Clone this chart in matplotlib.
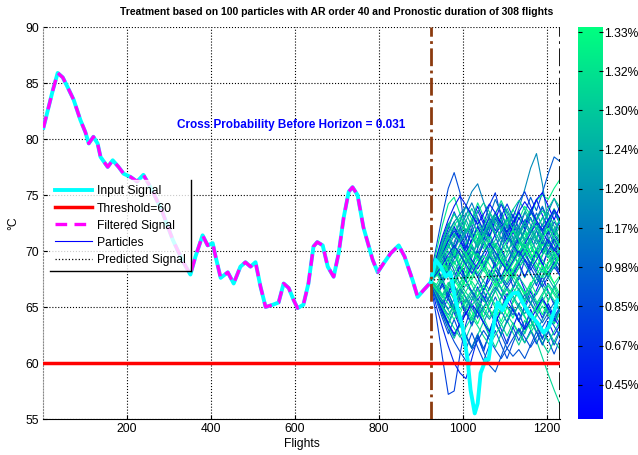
import matplotlib
matplotlib.use('Agg')
import matplotlib.pyplot as plt
import numpy as np
from matplotlib.lines import Line2D

plt.rcParams['font.family'] = ['Liberation Sans', 'DejaVu Sans']
plt.rcParams['font.size'] = 8.7

# measured signal (flight, degC)
sig_flights = [2, 12, 24, 36, 48, 60, 74, 90, 102, 110, 121, 131, 138, 155, 167, 181, 193, 210,
               225, 240, 260, 285, 310, 335, 352, 364, 381, 393, 405, 412, 424, 441, 455, 471,
               483, 495, 507, 519, 531, 548, 562, 574, 586, 598, 607, 621, 633, 645, 654, 667,
               679, 693, 705, 717, 729, 738, 750, 764, 786, 798, 812, 829, 848, 862, 881, 893,
               907, 924, 936, 948, 960, 971, 983, 1000, 1012, 1019, 1029, 1036, 1043, 1055,
               1062, 1071, 1083, 1095, 1107, 1119, 1131, 1143, 1157, 1178, 1193, 1205, 1217, 1226]
sig_values = [81.0, 82.5, 84.3, 85.9, 85.5, 84.6, 83.5, 81.7, 80.6, 79.6, 80.2, 79.6, 78.4, 77.5,
              78.1, 77.5, 76.9, 76.6, 76.2, 76.8, 75.5, 73.5, 71.0, 69.0, 67.9, 69.5, 71.4, 70.5,
              70.7, 69.5, 67.6, 68.1, 67.1, 68.6, 69.0, 68.6, 69.0, 66.8, 65.0, 65.2, 65.4, 67.1,
              66.7, 65.6, 64.9, 65.2, 67.1, 70.4, 70.8, 70.5, 68.6, 67.7, 69.8, 73.0, 75.3, 75.7,
              75.0, 72.1, 69.2, 68.1, 68.9, 69.8, 70.5, 69.5, 67.4, 65.9, 66.5, 67.2, 69.2, 68.6,
              67.7, 68.1, 65.6, 63.2, 60.3, 57.6, 55.5, 56.4, 59.1, 60.3, 60.3, 62.7, 65.4, 64.7,
              65.6, 66.2, 66.3, 65.4, 64.5, 63.6, 62.7, 63.2, 64.5, 65.6]

horizon = 924
duration = 308
threshold = 60
cross_prob = 0.031

# particle trajectories, one value every 14 flights from the horizon
part_flights = list(range(924, 1233, 14))
particles = [
    [67.2, 64.0, 60.5, 57.2, 57.5, 60.8, 63.5, 65.2, 64.0, 66.5, 68.0, 67.2, 69.0, 68.4, 66.8, 67.5, 69.2, 68.0, 66.9, 68.5, 70.1, 69.0, 68.2],
    [67.8, 70.5, 73.2, 75.6, 77.0, 75.2, 71.0, 68.8, 70.2, 72.5, 71.0, 69.3, 70.8, 72.4, 71.2, 69.5, 70.9, 72.0, 71.1, 69.8, 71.5, 72.6, 71.8],
    [67.5, 68.9, 70.2, 69.0, 70.8, 72.1, 70.5, 69.4, 71.0, 72.3, 71.4, 70.2, 71.8, 73.0, 72.2, 73.8, 75.5, 77.4, 78.7, 76.0, 72.5, 70.8, 71.5],
    [67.0, 66.2, 68.0, 69.5, 68.2, 67.0, 68.8, 70.4, 69.2, 71.0, 72.6, 71.3, 70.0, 71.7, 73.1, 72.0, 73.4, 74.8, 73.6, 75.2, 76.9, 78.4, 78.0],
    [67.4, 68.6, 67.5, 69.0, 70.3, 69.1, 70.6, 71.8, 70.7, 72.0, 71.2, 72.5, 73.4, 72.3, 73.7, 72.8, 74.0, 73.2, 74.5, 75.0, 74.6, 75.6, 76.4],
    [67.3, 66.1, 67.2, 65.9, 64.8, 66.0, 64.9, 63.8, 65.1, 64.0, 62.9, 64.2, 63.5, 62.4, 63.6, 62.7, 63.8, 63.0, 62.0, 60.5, 59.0, 57.6, 56.3],
    [66.9, 68.2, 69.8, 68.5, 70.1, 71.5, 70.2, 72.0, 73.6, 72.4, 74.1, 75.2, 73.0, 71.4, 72.6, 71.1, 69.8, 71.2, 70.0, 71.6, 72.8, 71.4, 70.6],
    [67.6, 70.0, 72.3, 74.2, 74.8, 73.3, 71.7, 72.9, 71.5, 70.2, 71.6, 70.4, 69.0, 70.5, 69.3, 70.8, 72.0, 70.7, 69.5, 70.8, 69.7, 70.9, 69.8],
    [67.1, 65.0, 63.2, 61.5, 60.0, 59.1, 58.6, 60.4, 62.3, 61.0, 62.8, 64.3, 63.0, 61.7, 63.2, 64.5, 63.1, 64.8, 63.5, 62.2, 63.7, 62.5, 63.4],
    [67.4, 69.0, 70.6, 72.0, 73.5, 72.2, 71.0, 72.6, 74.0, 72.7, 71.3, 72.8, 74.2, 72.9, 71.5, 73.0, 72.0, 73.4, 74.6, 73.2, 72.1, 73.5, 72.4],
    [67.3, 68.0, 67.0, 68.2, 69.1, 68.0, 69.3, 68.1, 67.2, 68.5, 69.6, 68.4, 67.5, 68.8, 69.9, 68.7, 67.6, 68.9, 70.0, 68.8, 67.8, 69.0, 68.2],
    [67.0, 66.0, 64.7, 65.8, 64.5, 63.2, 64.6, 63.3, 64.8, 66.0, 64.7, 63.5, 64.9, 66.2, 65.0, 63.8, 65.1, 66.4, 65.2, 64.0, 65.3, 64.1, 65.0],
    [67.5, 68.8, 70.1, 71.2, 70.0, 71.5, 72.8, 71.6, 70.3, 71.7, 70.5, 69.2, 70.6, 71.9, 70.8, 72.1, 71.0, 69.8, 71.2, 72.4, 71.2, 70.0, 71.3],
    [67.4, 66.5, 65.4, 66.7, 65.6, 64.4, 65.7, 64.6, 63.5, 64.8, 66.0, 64.9, 63.7, 65.0, 64.0, 65.3, 64.2, 63.0, 64.4, 65.6, 64.5, 63.5, 64.7],
    [67.2, 68.3, 69.5, 68.4, 67.1, 68.6, 69.9, 68.7, 70.0, 68.8, 67.6, 69.0, 70.2, 69.0, 67.9, 69.3, 70.5, 69.4, 68.2, 69.6, 70.8, 69.6, 68.5],
    [67.6, 69.4, 71.0, 72.5, 71.3, 72.8, 74.0, 72.8, 74.3, 73.1, 71.9, 73.3, 74.5, 73.3, 72.0, 73.4, 72.2, 73.6, 72.3, 71.0, 72.5, 73.8, 72.6],
    [67.0, 65.5, 64.0, 62.6, 63.9, 62.5, 61.2, 62.7, 61.4, 60.2, 61.6, 62.9, 61.6, 60.4, 61.8, 63.0, 61.8, 62.9, 61.7, 63.0, 62.0, 60.8, 62.1],
    [67.3, 66.4, 67.5, 66.2, 65.0, 66.3, 67.5, 66.3, 65.1, 66.4, 65.2, 66.6, 67.8, 66.6, 65.4, 66.7, 65.5, 66.9, 68.0, 66.8, 65.6, 66.9, 65.8],
    [67.5, 69.0, 70.3, 69.1, 70.6, 71.9, 73.2, 74.3, 73.0, 71.8, 73.1, 74.6, 73.4, 72.0, 73.3, 72.0, 70.8, 72.1, 73.4, 72.2, 73.5, 74.7, 73.5],
    [67.4, 67.8, 68.9, 70.0, 68.8, 69.9, 68.6, 67.4, 68.7, 69.9, 71.0, 69.8, 68.6, 69.8, 71.0, 69.8, 70.9, 69.7, 68.5, 69.7, 70.9, 69.7, 70.8],
    [67.1, 66.0, 67.1, 65.9, 66.9, 65.6, 64.3, 65.6, 66.8, 65.5, 66.7, 67.9, 66.6, 65.4, 66.6, 67.8, 66.5, 65.3, 66.5, 67.7, 66.4, 65.2, 66.4],
    [67.2, 65.8, 64.5, 63.4, 64.7, 63.5, 62.2, 63.5, 64.8, 63.6, 62.4, 63.6, 62.5, 63.8, 65.0, 63.8, 62.6, 63.9, 62.8, 61.7, 62.9, 61.9, 63.0],
    [67.6, 68.7, 70.0, 71.4, 70.2, 71.5, 70.3, 71.6, 72.9, 71.8, 73.0, 71.8, 73.1, 74.2, 73.0, 74.4, 75.3, 74.0, 72.7, 73.9, 72.6, 71.4, 72.7],
    [67.5, 68.5, 69.7, 70.9, 72.0, 70.8, 69.6, 70.9, 72.1, 70.9, 72.2, 73.3, 72.1, 70.9, 72.0, 70.8, 71.9, 70.7, 71.8, 73.0, 71.8, 72.9, 71.7],
    [67.0, 66.2, 65.0, 66.3, 65.0, 63.8, 62.5, 61.4, 62.6, 61.0, 59.8, 59.2, 60.6, 62.0, 63.2, 62.0, 63.3, 64.5, 63.3, 62.1, 63.4, 64.6, 63.4],
    [67.4, 68.4, 67.3, 68.5, 69.7, 68.5, 67.3, 68.6, 69.8, 70.9, 69.7, 68.5, 69.7, 68.5, 69.8, 71.0, 69.8, 68.6, 69.8, 71.0, 69.8, 68.7, 69.9],
    [67.3, 68.6, 67.4, 66.3, 67.6, 68.8, 67.6, 68.9, 67.7, 66.5, 67.8, 69.0, 70.1, 68.9, 67.7, 68.9, 67.7, 68.9, 70.1, 68.9, 67.7, 69.0, 67.8],
    [67.2, 66.3, 65.2, 64.0, 65.2, 66.4, 65.3, 64.1, 65.3, 64.1, 65.3, 66.5, 65.3, 64.2, 65.4, 66.5, 65.4, 66.6, 65.5, 64.3, 65.5, 66.7, 65.5],
    [67.5, 69.3, 71.0, 72.4, 71.2, 72.6, 74.0, 75.3, 76.0, 74.4, 72.8, 71.5, 72.8, 71.5, 70.2, 71.5, 72.8, 71.6, 72.9, 74.0, 72.8, 71.6, 72.9],
    [67.1, 65.6, 64.4, 63.3, 62.2, 63.4, 62.3, 61.3, 62.5, 63.7, 62.5, 61.4, 62.6, 63.8, 62.7, 61.6, 62.8, 64.0, 62.8, 61.8, 60.9, 62.0, 61.2],
    [67.4, 68.3, 69.5, 70.6, 69.4, 70.6, 71.8, 70.6, 69.4, 70.6, 71.8, 73.0, 71.8, 70.6, 71.8, 70.6, 71.8, 73.0, 71.8, 70.6, 71.8, 70.6, 69.5],
    [67.0, 65.9, 64.8, 63.6, 64.8, 63.6, 64.9, 66.0, 64.8, 63.6, 64.8, 63.6, 62.5, 63.7, 64.9, 63.7, 64.9, 63.8, 62.7, 63.9, 65.0, 63.9, 64.9],
    [67.4, 68.2, 69.2, 68.1, 67.0, 68.2, 69.4, 70.5, 69.3, 68.2, 69.4, 70.6, 69.4, 68.3, 69.4, 70.6, 71.6, 70.5, 69.4, 70.6, 69.5, 68.4, 69.6],
    [67.3, 68.5, 69.8, 71.0, 72.2, 71.0, 69.8, 71.0, 72.2, 71.0, 72.3, 73.4, 72.2, 71.0, 72.3, 73.5, 72.3, 73.5, 74.6, 75.2, 74.0, 72.8, 74.0],
    [67.6, 69.0, 70.2, 71.5, 72.6, 71.5, 72.7, 73.8, 72.7, 71.5, 72.7, 71.5, 72.7, 73.8, 72.6, 71.4, 72.6, 73.7, 72.5, 71.3, 72.5, 73.6, 72.5],
    [67.1, 66.0, 66.9, 65.7, 64.6, 65.8, 64.6, 63.5, 64.7, 65.9, 64.7, 65.9, 64.7, 63.6, 64.8, 63.7, 64.9, 66.0, 64.8, 65.9, 64.8, 63.7, 64.8],
    [67.3, 67.0, 66.1, 67.2, 66.0, 67.1, 68.2, 67.0, 65.9, 67.0, 66.0, 67.1, 66.0, 67.2, 68.3, 67.1, 66.0, 67.2, 66.1, 67.2, 68.2, 67.1, 66.1],
    [67.4, 68.6, 69.8, 68.6, 69.8, 68.6, 67.5, 68.7, 69.9, 68.8, 70.0, 68.8, 67.7, 68.9, 70.1, 71.2, 70.0, 68.8, 70.0, 68.8, 70.0, 71.1, 70.0],
    [67.5, 69.2, 70.8, 72.3, 73.4, 72.2, 73.4, 72.2, 71.0, 72.2, 73.4, 72.3, 71.1, 72.3, 71.1, 72.3, 73.5, 72.3, 71.1, 72.3, 73.4, 72.2, 71.1],
    [67.0, 65.8, 64.7, 63.5, 62.4, 63.6, 62.4, 61.3, 62.5, 61.3, 62.5, 63.7, 62.5, 61.3, 60.6, 61.2, 60.4, 61.6, 62.8, 61.6, 62.8, 61.6, 62.8],
    [67.3, 68.9, 70.4, 71.1, 70.0, 68.7, 68.1, 69.5, 70.8, 71.6, 70.9, 69.8, 69.0, 68.2, 69.1, 70.3, 71.2, 72.0, 71.3, 70.1, 69.4, 70.2, 71.0],
    [67.4, 66.8, 66.0, 66.9, 68.1, 69.2, 70.0, 69.1, 68.0, 67.3, 66.5, 67.4, 68.6, 69.5, 70.3, 69.6, 68.8, 67.9, 67.1, 67.8, 68.9, 69.7, 69.0],
    [67.2, 68.0, 69.1, 70.3, 71.4, 72.0, 71.1, 70.2, 69.6, 68.8, 69.7, 70.5, 71.2, 70.4, 69.5, 68.9, 69.8, 70.9, 71.8, 71.0, 70.1, 69.3, 68.7],
    [67.5, 67.9, 68.8, 68.2, 67.4, 66.6, 67.5, 68.4, 69.3, 68.6, 67.7, 66.9, 67.6, 68.5, 67.8, 66.9, 66.2, 67.0, 67.9, 68.7, 67.9, 67.1, 67.8],
    [67.3, 68.5, 69.9, 71.2, 72.3, 73.0, 72.4, 71.3, 70.5, 71.4, 72.5, 73.3, 72.6, 71.5, 70.7, 69.9, 70.8, 71.9, 72.8, 73.6, 72.9, 71.8, 71.1],
    [67.1, 66.2, 65.1, 64.3, 65.2, 66.1, 67.0, 66.3, 65.4, 64.6, 63.9, 64.8, 65.9, 66.8, 66.0, 65.1, 64.4, 65.3, 66.2, 67.1, 66.3, 65.4, 64.7],
    [67.4, 68.1, 67.3, 66.4, 65.8, 66.7, 67.8, 68.9, 69.8, 69.0, 68.1, 67.3, 66.6, 67.5, 68.4, 69.3, 70.1, 69.3, 68.4, 67.6, 68.5, 69.4, 70.2],
    [67.2, 68.4, 69.7, 70.9, 71.8, 71.0, 70.1, 69.2, 68.4, 69.3, 70.4, 71.5, 72.3, 71.5, 70.6, 69.7, 70.6, 71.6, 72.5, 71.7, 70.8, 70.0, 70.9],
    [67.3, 66.7, 67.6, 68.7, 68.0, 67.1, 66.3, 65.6, 66.5, 67.4, 68.3, 67.5, 66.7, 65.9, 66.8, 67.7, 66.9, 66.0, 65.3, 66.2, 67.1, 66.3, 65.5],
    [67.6, 69.1, 70.5, 71.7, 72.6, 73.3, 74.0, 73.2, 72.3, 71.5, 72.4, 73.4, 74.2, 73.5, 72.6, 71.7, 72.6, 73.5, 72.7, 71.8, 72.7, 73.6, 72.8],
    [67.2, 66.4, 65.5, 64.7, 63.9, 64.8, 65.7, 66.5, 65.7, 64.9, 64.1, 64.9, 65.8, 66.6, 65.8, 64.9, 64.1, 63.3, 64.2, 65.1, 64.3, 63.5, 64.4],
    [67.0, 66.1, 65.3, 66.2, 67.2, 68.1, 67.3, 66.4, 65.6, 66.5, 67.4, 68.3, 67.5, 66.7, 67.6, 68.5, 69.3, 68.5, 67.6, 66.8, 67.7, 68.6, 67.8],
    [67.4, 68.6, 69.6, 70.5, 69.7, 68.8, 69.7, 70.7, 71.6, 70.8, 69.9, 69.0, 69.9, 70.9, 71.8, 71.0, 70.1, 69.3, 70.2, 71.1, 72.0, 71.2, 70.4],
    [67.3, 67.9, 68.6, 67.8, 66.9, 66.1, 65.4, 66.3, 67.2, 66.4, 65.5, 66.4, 67.3, 68.2, 67.4, 66.5, 65.7, 66.6, 67.5, 68.4, 67.6, 66.7, 67.6],
    [67.5, 69.3, 70.9, 72.2, 73.3, 72.5, 71.6, 72.5, 73.5, 74.3, 73.5, 72.6, 71.8, 72.7, 73.7, 74.5, 73.7, 72.8, 72.0, 72.9, 73.8, 74.7, 73.9],
    [67.1, 65.9, 64.6, 63.5, 62.6, 63.5, 64.4, 65.3, 64.5, 63.6, 62.8, 63.7, 64.6, 65.5, 64.7, 63.8, 63.0, 63.9, 64.8, 65.7, 64.9, 64.0, 63.2],
    [67.4, 67.0, 67.9, 68.9, 69.7, 70.5, 69.7, 68.8, 68.0, 68.9, 69.8, 70.7, 69.9, 69.0, 68.2, 69.1, 70.0, 70.9, 70.1, 69.2, 68.4, 69.3, 70.2],
    [67.3, 68.2, 67.4, 68.3, 69.3, 70.2, 69.4, 68.5, 67.7, 68.6, 69.5, 68.7, 67.8, 67.0, 67.9, 68.8, 69.7, 68.9, 68.0, 67.2, 68.1, 69.0, 68.2],
    [67.2, 66.0, 64.9, 64.0, 63.1, 62.3, 63.2, 64.1, 63.3, 62.4, 61.6, 62.5, 63.4, 64.3, 63.5, 62.6, 61.8, 62.7, 63.6, 62.8, 61.9, 62.8, 63.7],
    [67.5, 68.8, 70.0, 69.2, 70.1, 71.1, 72.0, 71.2, 70.3, 71.2, 72.1, 73.0, 72.2, 71.3, 70.5, 71.4, 72.3, 71.5, 70.6, 71.5, 72.4, 71.6, 70.8],
    [67.3, 67.8, 68.5, 69.4, 68.6, 67.7, 66.9, 67.8, 68.7, 69.6, 68.8, 67.9, 67.1, 68.0, 68.9, 69.8, 70.6, 69.8, 68.9, 68.1, 69.0, 69.9, 69.1],
    [67.0, 65.7, 64.3, 63.0, 61.9, 61.0, 60.2, 61.1, 62.0, 62.9, 62.1, 61.2, 60.4, 61.3, 62.2, 63.1, 62.3, 61.4, 62.3, 63.2, 64.1, 63.3, 62.4],
    [67.4, 68.7, 70.1, 71.3, 70.5, 69.6, 68.8, 69.7, 70.6, 71.5, 72.4, 71.6, 70.7, 69.9, 70.8, 71.7, 72.6, 71.8, 70.9, 70.1, 71.0, 71.9, 72.8],
    [67.2, 66.6, 65.8, 66.7, 67.6, 66.8, 65.9, 65.1, 66.0, 66.9, 66.1, 65.2, 64.4, 65.3, 66.2, 67.1, 66.3, 65.4, 64.6, 65.5, 66.4, 65.6, 64.8],
    [67.6, 69.5, 71.3, 72.8, 74.0, 74.9, 74.1, 73.2, 72.4, 73.3, 74.2, 73.4, 72.5, 71.7, 72.6, 73.5, 74.4, 73.6, 72.7, 71.9, 72.8, 73.7, 72.9],
    [67.3, 68.1, 69.0, 68.2, 67.3, 68.2, 69.1, 70.0, 69.2, 68.3, 67.5, 68.4, 69.3, 68.5, 67.6, 68.5, 69.4, 70.3, 69.5, 68.6, 67.8, 68.7, 69.6],
    [67.1, 66.3, 65.6, 64.8, 65.7, 66.6, 65.8, 64.9, 64.1, 65.0, 65.9, 66.8, 66.0, 65.1, 64.3, 65.2, 66.1, 65.3, 64.4, 63.6, 64.5, 65.4, 64.6],
    [67.5, 68.4, 69.5, 70.6, 71.6, 70.8, 71.7, 72.6, 71.8, 70.9, 70.1, 71.0, 71.9, 72.8, 72.0, 71.1, 70.3, 71.2, 72.1, 71.3, 70.4, 71.3, 72.2],
    [67.3, 68.0, 68.8, 69.7, 70.5, 69.7, 68.8, 68.0, 68.9, 69.8, 70.7, 69.9, 69.0, 68.2, 69.1, 70.0, 69.2, 68.3, 69.2, 70.1, 71.0, 70.2, 69.3],
    [67.2, 66.5, 66.0, 65.3, 64.6, 65.5, 66.4, 67.3, 66.5, 65.6, 64.8, 64.0, 64.9, 65.8, 66.7, 65.9, 65.0, 64.2, 65.1, 66.0, 66.9, 66.1, 65.2],
]
# particle weights (colour scale position)
weights = [0.25, 0.30, 0.55, 0.35, 0.95, 0.85, 0.20, 0.90, 0.15, 0.05,
           0.80, 0.10, 0.60, 0.98, 0.25, 0.88, 0.30, 0.70, 0.45, 0.92,
           0.08, 0.75, 0.20, 0.85, 0.35, 0.65, 0.12, 0.95, 0.50, 0.82,
           0.28, 0.58, 0.90, 0.02, 0.78, 0.40, 0.97, 0.18, 0.68, 0.33,
           0.90, 0.70, 0.55, 0.99, 0.86, 0.60, 0.93, 0.15, 0.75, 0.50,
           0.88, 0.25, 0.97, 0.65, 0.80, 0.05, 0.91, 0.40, 0.84, 0.62,
           0.95, 0.30, 0.72, 0.87, 0.10, 0.99, 0.45, 0.78, 0.20, 0.94]

pred_flights = [924, 1000, 1100, 1232]
pred_values = [67.4, 67.6, 67.8, 68.0]

cbar_labels = ['0.45%', '0.67%', '0.85%', '0.98%', '1.17%', '1.20%', '1.24%', '1.30%', '1.32%', '1.33%']

fig = plt.figure(figsize=(6.38, 4.55), dpi=100)
ax = fig.add_axes([43/638, 36/455, 517/638, 392/455])
cmap = plt.get_cmap('winter')

sig_flights = np.array(sig_flights)
sig_values = np.array(sig_values)

for p, w in zip(particles, weights):
    ax.plot(part_flights, p, color=cmap(w), lw=0.8, zorder=2)
ax.plot(pred_flights, pred_values, color='k', ls=':', lw=0.9, zorder=4)

ax.plot(sig_flights, sig_values, color='cyan', lw=2.8, zorder=3)
ax.axhline(threshold, color='red', lw=2.5, zorder=3)
filt = sig_flights <= horizon
ax.plot(sig_flights[filt], sig_values[filt], color='magenta', lw=2.4, ls=(0, (3.5, 2.2)), zorder=3)

ax.axvline(horizon, color='#8B3A0E', lw=2, ls='-.', zorder=5)
ax.axvline(horizon + duration, color='k', lw=2, ls='-.', zorder=5)

ax.text(592, 81.25, 'Cross Probability Before Horizon = %.3f' % cross_prob, color='blue',
        fontweight='bold', ha='center', va='center', fontsize=8.5)

ax.set_xlim(1, horizon + duration)
ax.set_ylim(55, 90)
ax.set_xticks([200, 400, 600, 800, 1000, 1200])
ax.set_yticks(range(55, 91, 5))
ax.grid(True, color='k', ls=':', lw=0.8)
ax.tick_params(direction='in', length=3, labelsize=8.7, pad=3)
ax.spines['top'].set_visible(False)
ax.spines['right'].set_visible(False)
ax.spines['left'].set_color('#888888')
ax.spines['left'].set_linestyle(':')
ax.set_xlabel('Flights', fontsize=8.7, labelpad=2)
ax.set_ylabel('°C', fontsize=8.7, labelpad=4)

fig.text(337/638, 1 - 12/455, 'Treatment based on 100 particles with AR order 40 and Pronostic duration of 308 flights',
         ha='center', va='center', fontweight='bold', fontsize=7.5)

handles = [Line2D([], [], color='cyan', lw=2.8),
           Line2D([], [], color='red', lw=2.5),
           Line2D([], [], color='magenta', lw=2.4, ls=(0, (3.5, 2.2))),
           Line2D([], [], color='blue', lw=0.8),
           Line2D([], [], color='k', ls=':', lw=0.9)]
names = ['Input Signal', 'Threshold=60', 'Filtered Signal', 'Particles', 'Predicted Signal']
leg = ax.legend(handles, names, loc='upper left', bbox_to_anchor=(50/638, 1 - 180/455),
                bbox_transform=fig.transFigure, fontsize=8.7, frameon=True, fancybox=False,
                handlelength=3.0, handletextpad=0.4, labelspacing=0.42, borderpad=0.45,
                borderaxespad=0)
leg.get_frame().set_facecolor('white')
leg.get_frame().set_edgecolor('white')
leg.set_zorder(10)

# right and bottom edge of the legend box
fig.canvas.draw()
bb = leg.get_window_extent().transformed(fig.transFigure.inverted())
fig.add_artist(Line2D([bb.x1, bb.x1], [bb.y0, bb.y1], color='k', lw=1, transform=fig.transFigure))
fig.add_artist(Line2D([bb.x0, bb.x1], [bb.y0, bb.y0], color='k', lw=1, transform=fig.transFigure))

cax = fig.add_axes([578/638, 36/455, 25/638, 392/455])
sm = plt.cm.ScalarMappable(cmap=cmap, norm=plt.Normalize(0, 1))
cb = fig.colorbar(sm, cax=cax)
cb.set_ticks(np.linspace(0.087, 0.987, 10))
cb.set_ticklabels(cbar_labels)
cb.outline.set_visible(False)
cax.tick_params(direction='in', length=3, labelsize=8.7, left=True, right=True, pad=1)

fig.savefig('out.png', dpi=100)
